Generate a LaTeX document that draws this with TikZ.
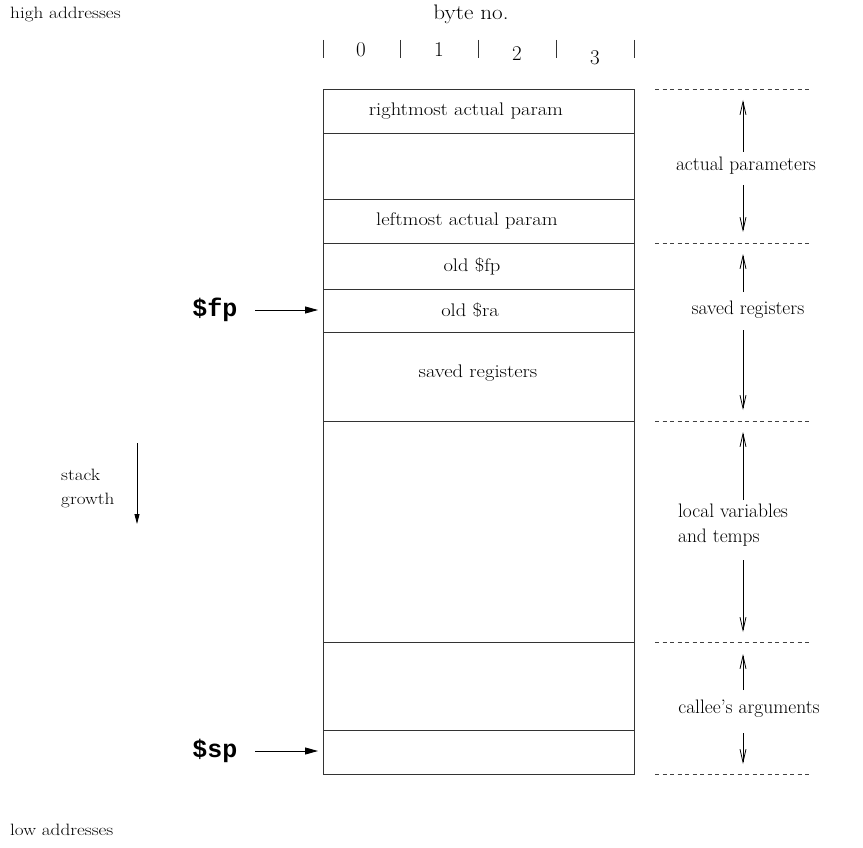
\documentclass[tikz,border=0pt]{standalone}
\usepackage{fontspec}
\setmonofont{Liberation Mono}
\usetikzlibrary{arrows.meta}
\newcommand\wideb[1]{\scalebox{1.13}[1]{#1}}
\newcommand\wides[1]{\scalebox{1.0}[1]{#1}}
\newcommand\widel[1]{\scalebox{1.17}[1]{#1}}
\newcommand\wideh[1]{\scalebox{1.1}[1]{#1}}
\tikzset{
  frame/.style={draw=black!80, line width=0.9pt},
  tick/.style={draw=black!80, line width=0.9pt},
  sep/.style={draw=black!75, line width=0.7pt, dash pattern=on 4pt off 3.5pt},
  span/.style={draw=black, line width=0.8pt, -{Straight Barb[length=13pt,width=6pt]}},
  ptr/.style={draw=black, line width=0.9pt, -{Triangle[length=13pt,width=7pt]}},
  boxlbl/.style={inner sep=0pt, font=\fontsize{18.2}{20}\selectfont},
  sidelbl/.style={inner sep=0pt, align=left, font=\fontsize{19.5}{25}\selectfont},
  smalllbl/.style={inner sep=0pt, align=left, font=\fontsize{16.4}{24}\selectfont},
  hdr/.style={inner sep=0pt, font=\fontsize{21}{22}\selectfont},
  digit/.style={inner sep=0pt, font=\fontsize{21}{22}\selectfont},
  reg/.style={inner sep=0pt, font=\fontsize{25}{28}\selectfont\ttfamily\bfseries}
}
\begin{document}
\begin{tikzpicture}[x=1pt,y=-1pt]
\useasboundingbox (0,0) rectangle (863,848);

% stack frame
\draw[frame] (323,89) rectangle (634,774);
\foreach \yy in {133,199,243,289,332,421,642,730}
  \draw[frame] (323,\yy) -- (634,\yy);

% header
\node[hdr] (byteno) at (471,14) {\wideh{byte no.}};
\foreach \xx in {323,400,478,556,634}
  \draw[tick] (\xx,40) -- (\xx,58);
\node[digit] (b0) at (361,50) {0};
\node[digit] (b1) at (439,50) {1};
\node[digit] (b2) at (517,54) {2};
\node[digit] (b3) at (595,58) {3};

% slot labels
\node[boxlbl] (rap) at (466,111) {\wideb{rightmost actual param}};
\node[boxlbl] (lap) at (467,221) {\wideb{leftmost actual param}};
\node[boxlbl] (ofp) at (472,266) {\wideb{old \$fp}};
\node[boxlbl] (ora) at (470,310) {\wideb{old \$ra}};
\node[boxlbl] (svr) at (478,373) {\wideb{saved registers}};

% dashed separators
\foreach \yy in {89,243,421,642,774}
  \draw[sep] (655,\yy) -- (810,\yy);

% side labels with spans
\node[sidelbl] (ap) at (746,166) {\wides{actual parameters}};
\coordinate (ap0) at (743,152);
\coordinate (ap1) at (743,100);
\coordinate (ap3) at (743,185);
\coordinate (ap2) at (743,232);
\draw[span] (ap0) -- (ap1);
\draw[span] (ap3) -- (ap2);

\node[sidelbl] (sr) at (748,310) {\wides{saved registers}};
\coordinate (sr0) at (743,292);
\coordinate (sr1) at (743,254);
\coordinate (sr3) at (743,330);
\coordinate (sr2) at (743,410);
\draw[span] (sr0) -- (sr1);
\draw[span] (sr3) -- (sr2);

\node[sidelbl] (lv) at (733,525) {\wides{local variables}\\\wides{and temps}};
\coordinate (lv0) at (743,500);
\coordinate (lv1) at (743,432);
\coordinate (lv3) at (743,560);
\coordinate (lv2) at (743,632);
\draw[span] (lv0) -- (lv1);
\draw[span] (lv3) -- (lv2);

\node[sidelbl] (ca) at (749,709) {\wides{callee’s arguments}};
\coordinate (ca0) at (743,690);
\coordinate (ca1) at (743,654);
\coordinate (ca3) at (743,733);
\coordinate (ca2) at (743,764);
\draw[span] (ca0) -- (ca1);
\draw[span] (ca3) -- (ca2);

% register pointers
\node[reg] (fp) at (215,310) {\$fp};
\coordinate (fpt) at (318,310);
\draw[ptr] (255,310) -- (fpt);
\node[reg] (sp) at (215,751) {\$sp};
\coordinate (spt) at (318,751);
\draw[ptr] (255,751) -- (spt);

% left annotations
\node[smalllbl, anchor=west] (high) at (10,14) {\widel{high addresses}};
\node[smalllbl, anchor=west] (low) at (10,830) {\widel{low addresses}};
\node[smalllbl, anchor=west] (sg) at (61,488) {\widel{stack}\\\widel{growth}};
\coordinate (sg1) at (137,443);
\coordinate (sg2) at (137,524);
\draw[ptr, line width=0.8pt, -{Triangle[length=10pt,width=5pt]}] (sg1) -- (sg2);
\end{tikzpicture}
\end{document}
